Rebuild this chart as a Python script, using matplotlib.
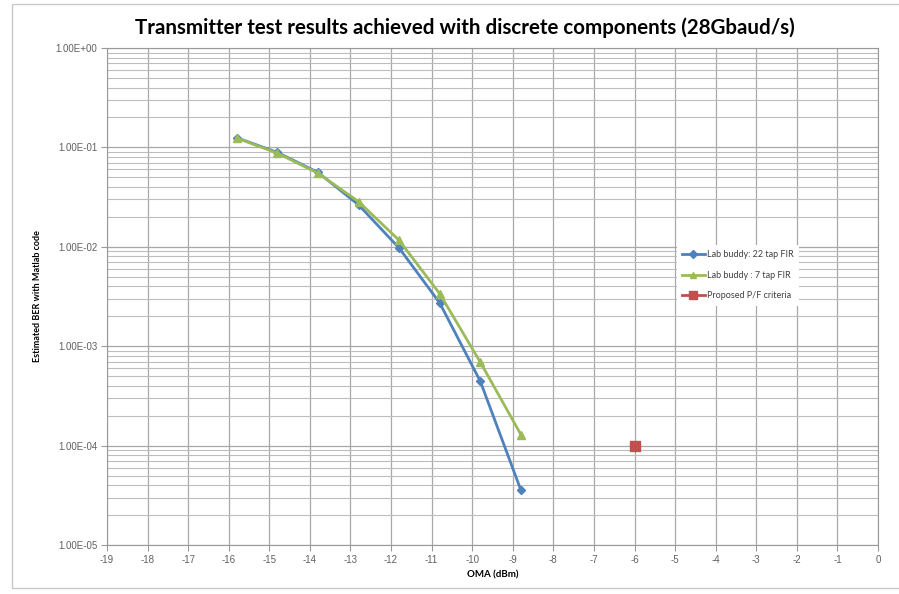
import numpy as np
import matplotlib.pyplot as plt
from matplotlib.ticker import FuncFormatter, LogLocator, MultipleLocator, NullFormatter
from matplotlib.patches import Rectangle

# OMA (dBm) and estimated BER
oma = [-15.8, -14.8, -13.8, -12.8, -11.8, -10.8, -9.8, -8.8]
ber_22tap = [0.125, 0.089, 0.056, 0.0264, 0.0097, 0.00272, 0.000443, 0.0000356]
ber_7tap = [0.124, 0.0874, 0.055, 0.0285, 0.0116, 0.00337, 0.00069, 0.000129]
crit_oma = [-6]
crit_ber = [1e-4]

title = "Transmitter test results achieved with discrete components (28Gbaud/s)"
labels = ["Lab buddy: 22 tap FIR", "Lab buddy : 7 tap FIR", "Proposed P/F criteria"]

plt.rcParams['font.family'] = ['Lato', 'DejaVu Sans']

fig = plt.figure(figsize=(8.99, 5.94), dpi=100)
ax = fig.add_axes([107/899, 1 - 545/594, (878-107)/899, (545-48)/594])

# chart area frame
fig.patches.append(Rectangle((12/899, 6/594), 1, 584/594, transform=fig.transFigure,
                             fill=False, edgecolor='#c8c8c8', linewidth=1.0))

ax.plot(oma, ber_22tap, color='#4F81BD', lw=2, marker='D', ms=4.5, label=labels[0])
ax.plot(oma, ber_7tap, color='#9BBB59', lw=2, marker='^', ms=6, label=labels[1])
ax.plot(crit_oma, crit_ber, color='#C0504D', lw=2, marker='s', ms=7, label=labels[2])

ax.set_yscale('log')
ax.set_ylim(1e-5, 1)
ax.set_xlim(-19, 0)
ax.xaxis.set_major_locator(MultipleLocator(1))
ax.yaxis.set_major_locator(LogLocator(base=10, numticks=10))
ax.yaxis.set_minor_locator(LogLocator(base=10, subs=np.arange(2, 10), numticks=10))
ax.yaxis.set_minor_formatter(NullFormatter())
ax.yaxis.set_major_formatter(FuncFormatter(lambda v, p: "%.2E" % v))
ax.xaxis.set_major_formatter(FuncFormatter(lambda v, p: "%d" % v))

ax.grid(True, which='major', color='#a8a8a8', lw=0.9)
ax.grid(True, which='minor', axis='y', color='#bdbdbd', lw=0.8)
ax.set_axisbelow(True)
for s in ax.spines.values():
    s.set_color('#999999')
ax.tick_params(which='major', length=4, color='#999999', labelsize=7, labelcolor='#606060', pad=3)
ax.tick_params(which='minor', length=0)
for lab in ax.get_xticklabels() + ax.get_yticklabels():
    lab.set_family('Liberation Sans')

fig.text(465/899, 1 - 28/594, title, fontsize=14.8, fontweight='bold', ha='center', va='center')
ax.set_xlabel("OMA (dBm)", fontsize=7, fontweight='bold', labelpad=4)
ax.set_ylabel("Estimated BER with Matlab code", fontsize=6.5, fontweight='bold', labelpad=10)

leg = ax.legend(loc='upper left', bbox_to_anchor=((672-107)/771, (545-240)/497),
                frameon=True, fontsize=6.5, handlelength=2.5, labelspacing=1.3,
                borderpad=0.6, handletextpad=0.3, markerscale=0.8)
leg.get_frame().set_edgecolor('none')
leg.get_frame().set_facecolor('white')
leg.get_frame().set_alpha(1)
for t in leg.get_texts():
    t.set_color('#404040')

plt.savefig("out.png", dpi=100)
